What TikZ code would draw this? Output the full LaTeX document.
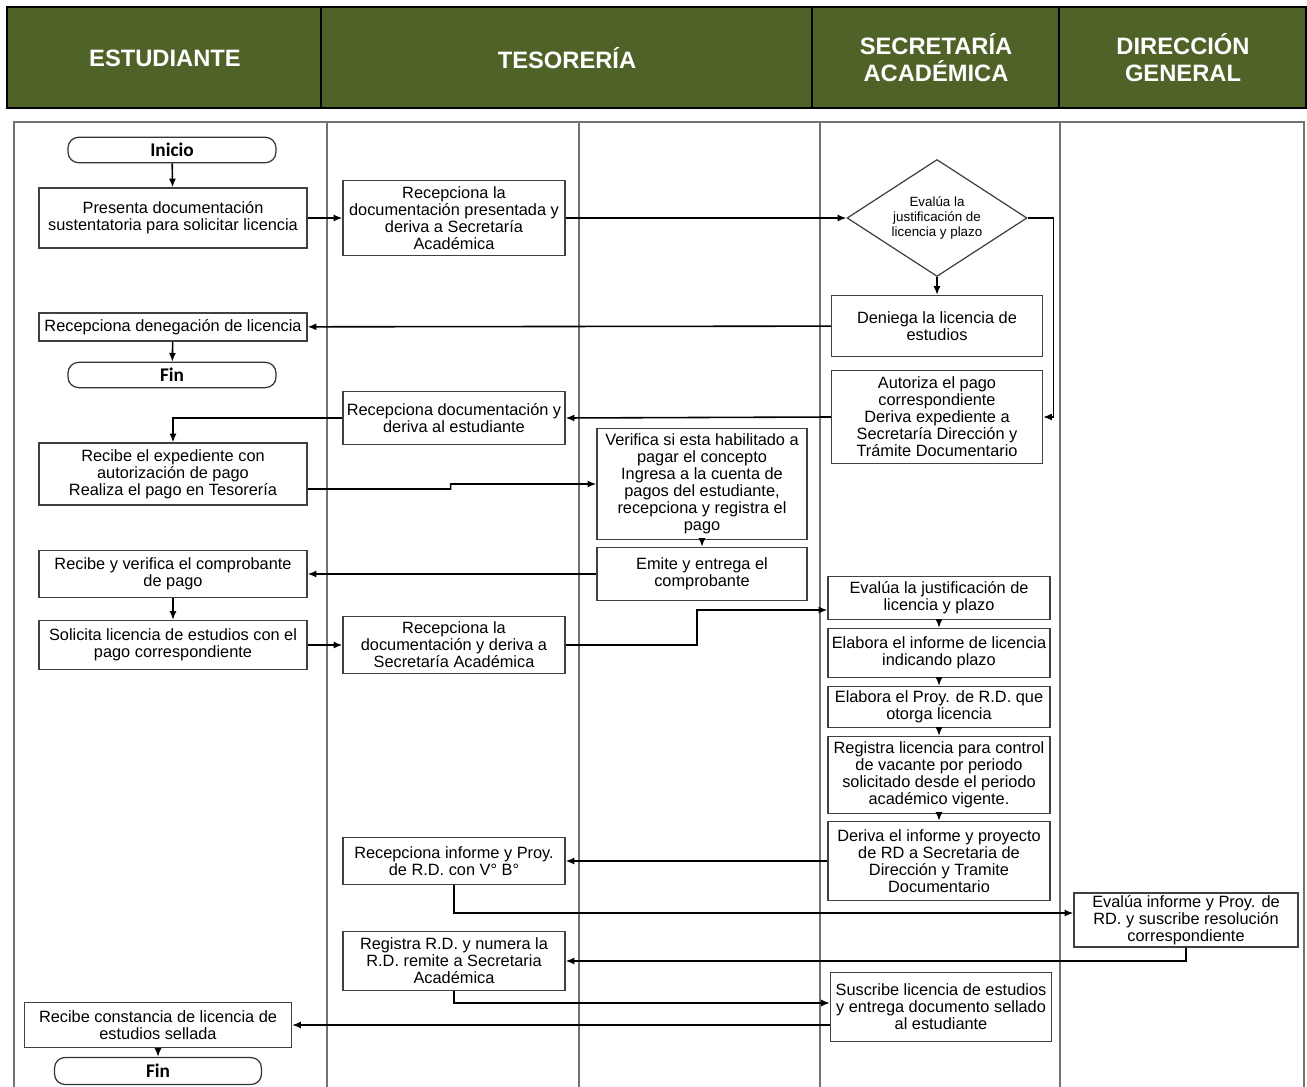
\documentclass[tikz,border=0pt]{standalone}
\usepackage{fontspec}
\setmainfont{Liberation Sans}
\newfontfamily\termfont{Carlito}
\usepackage{xcolor}
\usetikzlibrary{shapes.geometric,arrows.meta}
\definecolor{headgreen}{RGB}{79,98,40}

\begin{document}
\begin{tikzpicture}[x=0.02cm, y=-0.02cm,
	box/.style={draw=black!75, line width=0.7pt, fill=white, align=center, inner sep=1pt, font=\fontsize{9.3}{9.7}\selectfont},
	term/.style={draw=black!80, line width=0.7pt, fill=white, rounded corners=6pt, minimum width=4.16cm, minimum height=0.5cm, font=\termfont\bfseries\fontsize{11}{12}\selectfont},
	decision/.style={diamond, aspect=1.55, draw=black!75, line width=0.7pt, fill=white, align=center, inner sep=0pt, font=\fontsize{7.6}{8.6}\selectfont},
	flow/.style={draw=black, line width=0.9pt, -{Latex[length=5pt,width=4pt]}},
	lane/.style={draw=black!55, line width=0.6pt},
	head/.style={text=white, align=center, font=\bfseries\fontsize{13.5}{15.4}\selectfont}]
	\useasboundingbox (0,0) rectangle (1307,1087);

	\draw[draw=black, line width=1.6pt, fill=headgreen] (7,7) rectangle (1306,108);
	\draw[draw=black, line width=1.6pt] (321,7) -- (321,108);
	\draw[draw=black, line width=1.6pt] (812,7) -- (812,108);
	\draw[draw=black, line width=1.6pt] (1059,7) -- (1059,108);
	\node[head] (hest) at (165,58) {ESTUDIANTE};
	\node[head] (htes) at (567,58) {TESORERÍA};
	\node[head] (hsec) at (936,58) {SECRETARÍA\\ACADÉMICA};
	\node[head] (hdir) at (1183,58) {DIRECCIÓN\\GENERAL};

	\draw[lane] (14,1090) -- (14,122) -- (1304,122) -- (1304,1090);
	\foreach \x in {327,579,820,1060}
		\draw[lane] (\x,122) -- (\x,1090);

	\node[term] (inicio) at (172,150) {Inicio};
	\node[box, minimum width=5.36cm, minimum height=1.2cm] (presenta) at (173,218) {Presenta documentación\\sustentatoria para solicitar licencia};
	\node[box, minimum width=4.44cm, minimum height=1.5cm] (recepdoc) at (454,218) {Recepciona la\\documentación presentada y\\deriva a Secretaría\\Académica};
	\node[decision, minimum width=3.6cm, minimum height=2.34cm] (evalua) at (937,218) {Evalúa la\\justificación de\\licencia y plazo};
	\node[box, minimum width=4.22cm, minimum height=1.22cm] (deniega) at (937,326) {Deniega la licencia de\\estudios};
	\node[box, minimum width=5.36cm, minimum height=0.56cm] (recepden) at (173,327) {Recepciona denegación de licencia};
	\node[term] (fin) at (172,375) {Fin};
	\node[box, minimum width=4.22cm, minimum height=1.86cm] (autoriza) at (937,417) {Autoriza el pago\\correspondiente\\Deriva expediente a\\Secretaría Dirección y\\Trámite Documentario};
	\node[box, minimum width=4.44cm, minimum height=1.06cm] (recepest) at (454,418) {Recepciona documentación y\\deriva al estudiante};
	\node[box, minimum width=5.36cm, minimum height=1.24cm] (recibexp) at (173,474) {Recibe el expediente con\\autorización de pago\\Realiza el pago en Tesorería};
	\node[box, minimum width=4.2cm, minimum height=2.22cm] (verifica) at (702,484) {Verifica si esta habilitado a\\pagar el concepto\\Ingresa a la cuenta de\\pagos del estudiante,\\recepciona y registra el\\pago};
	\node[box, minimum width=4.2cm, minimum height=1.06cm] (emite) at (702,574) {Emite y entrega el\\comprobante};
	\node[box, minimum width=5.36cm, minimum height=0.94cm] (recibcomp) at (173,574) {Recibe y verifica el comprobante\\de pago};
	\node[box, minimum width=5.36cm, minimum height=0.98cm] (solicita) at (173,645) {Solicita licencia de estudios con el\\pago correspondiente};
	\node[box, minimum width=4.44cm, minimum height=1.14cm] (recepsec) at (454,645) {Recepciona la\\documentación y deriva a\\Secretaría Académica};
	\node[box, minimum width=4.44cm, minimum height=0.86cm] (evaljust) at (939,598) {Evalúa la justificación de\\licencia y plazo};
	\node[box, minimum width=4.44cm, minimum height=0.98cm] (informe) at (939,653) {Elabora el informe de licencia\\indicando plazo};
	\node[box, minimum width=4.44cm, minimum height=0.82cm] (proyrd) at (939,707) {Elabora el Proy. de R.D. que\\otorga licencia};
	\node[box, minimum width=4.44cm, minimum height=1.54cm] (registra) at (939,775) {Registra licencia para control\\de vacante por periodo\\solicitado desde el periodo\\académico vigente.};
	\node[box, minimum width=4.44cm, minimum height=1.58cm] (deriva) at (939,861) {Deriva el informe y proyecto\\de RD a Secretaria de\\Dirección y Tramite\\Documentario};
	\node[box, minimum width=4.44cm, minimum height=0.94cm] (recepinf) at (454,861) {Recepciona informe y Proy.\\de R.D. con V° B°};
	\node[box, minimum width=4.48cm, minimum height=1.08cm] (evaldir) at (1186,920) {Evalúa informe y Proy. de\\RD. y suscribe resolución\\correspondiente};
	\node[box, minimum width=4.44cm, minimum height=1.18cm] (registrd) at (454,961) {Registra R.D. y numera la\\R.D. remite a Secretaria\\Académica};
	\node[box, minimum width=4.42cm, minimum height=1.38cm] (suscribe) at (941,1007) {Suscribe licencia de estudios\\y entrega documento sellado\\al estudiante};
	\node[box, minimum width=5.34cm, minimum height=0.9cm] (recibcons) at (158,1025) {Recibe constancia de licencia de\\estudios sellada};
	\node[term, minimum width=4.14cm, minimum height=0.54cm] (fintwo) at (158,1071) {Fin};

	\draw[flow] (inicio) -- (presenta);
	\draw[flow] (presenta) -- (recepdoc);
	\draw[flow] (recepdoc) -- (evalua);
	\draw[flow] (evalua) -- (deniega);
	\draw[flow] (deniega) -- (recepden);
	\draw[flow] (recepden) -- (fin);
	\draw[flow] (evalua.east) -- ++(26,0) |- (autoriza.east);
	\draw[flow] (autoriza.west) -- (recepest.east);
	\draw[flow] (recepest.west) -| (recibexp.north);
	\draw[flow] ([yshift=-0.3cm]recibexp.east) -- ++(143,0) -- ++(0,-5) -- (verifica.west);
	\draw[flow] (verifica) -- (emite);
	\draw[flow] (emite.west) -- (recibcomp.east);
	\draw[flow] (recibcomp) -- (solicita);
	\draw[flow] (solicita) -- (recepsec);
	\draw[flow] (recepsec.east) -- (697,645) |- ([yshift=-0.24cm]evaljust.west);
	\draw[flow] (evaljust) -- (informe);
	\draw[flow] (informe) -- (proyrd);
	\draw[flow] (proyrd) -- (registra);
	\draw[flow] (registra) -- (deriva);
	\draw[flow] (deriva.west) -- (recepinf.east);
	\draw[flow] (recepinf.south) |- ([yshift=0.14cm]evaldir.west);
	\draw[flow] (evaldir.south) |- (registrd.east);
	\draw[flow] (registrd.south) |- ([yshift=0.08cm]suscribe.west);
	\draw[flow] (suscribe.west |- recibcons.east) -- (recibcons.east);
	\draw[flow] (recibcons) -- (fintwo);
\end{tikzpicture}
\end{document}
